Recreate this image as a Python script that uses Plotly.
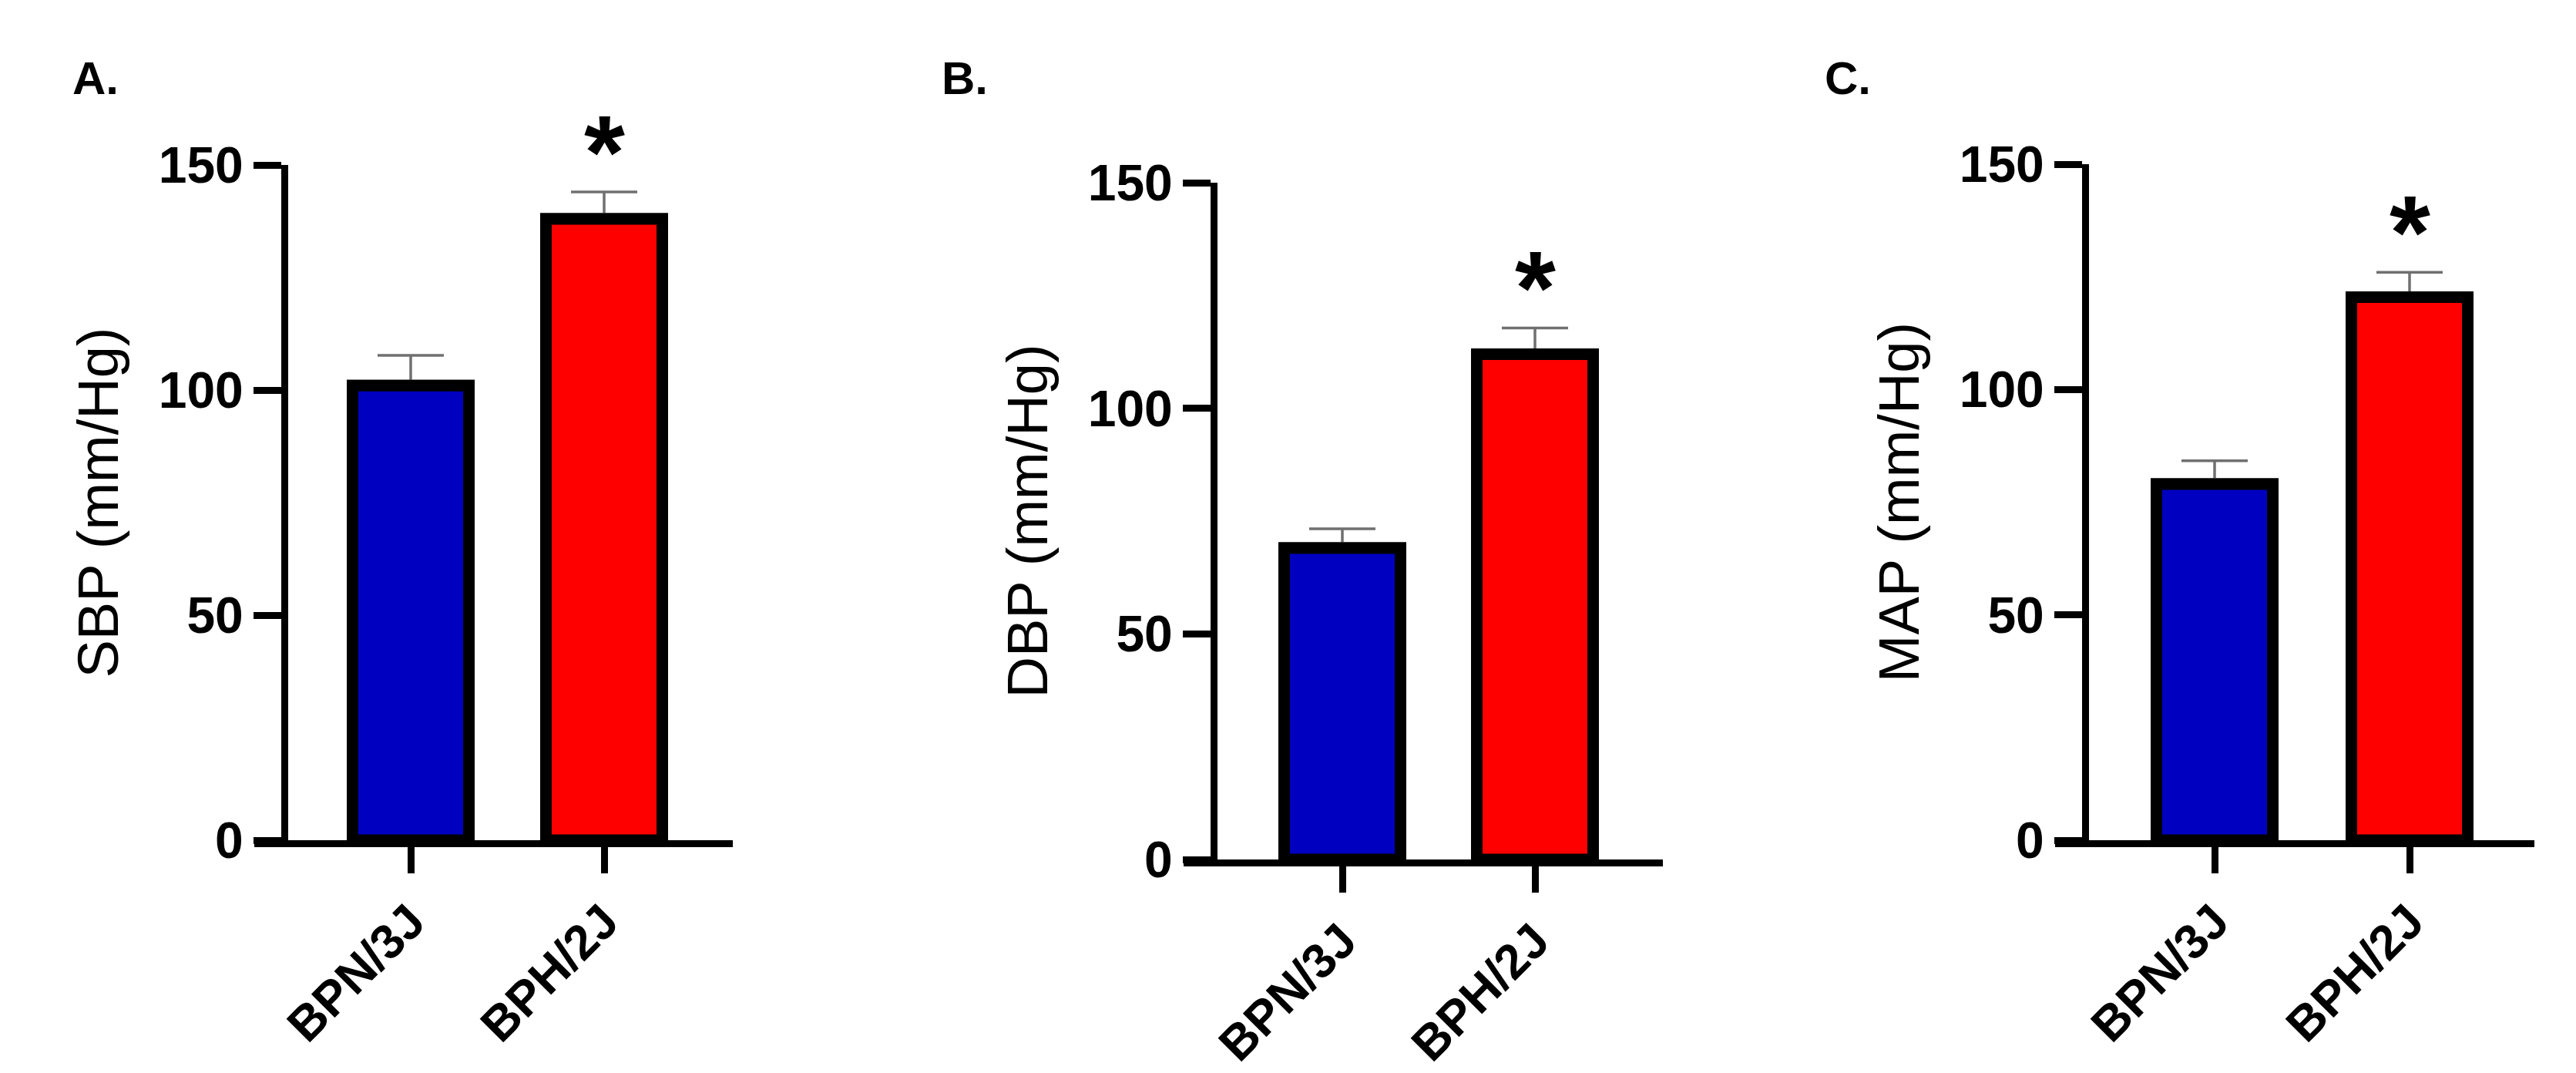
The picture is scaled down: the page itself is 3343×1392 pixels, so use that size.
import plotly.graph_objects as go

# ---------------- data ----------------
categories = ["BPN/3J", "BPH/2J"]
sbp_mean = [101.0, 138.0]
sbp_sem = [6.7, 6.0]
dbp_mean = [69.0, 112.0]
dbp_sem = [4.3, 5.8]
map_mean = [79.0, 120.5]
map_sem = [5.2, 5.5]
bar_colors = ["#0000C0", "#FF0000"]
y_titles = ["SBP (mm/Hg)", "DBP (mm/Hg)", "MAP (mm/Hg)"]
panel_labels = ["A.", "B.", "C."]
y_tick_vals = [0, 50, 100, 150]
significance = ["", "*"]

means = [sbp_mean, dbp_mean, map_mean]
sems = [sbp_sem, dbp_sem, map_sem]

# ---------------- layout (pixels) ----------------
W, H = 3343, 1392
# per panel: x-axis left end, right end, y-axis x, first category px, category spacing,
# y pixel of 0, y pixel of 150, panel label x
panels = [
    dict(xl=322, xr=943, yax=361, c0=525, sp=251, y0=1082, y150=206, lab=84),
    dict(xl=1528, xr=2150, yax=1567, c0=1734, sp=250, y0=1107, y150=229, lab=1212),
    dict(xl=2659, xr=3281, yax=2698, c0=2866, sp=253, y0=1082, y150=205, lab=2358),
]
BAR_PX = 151
FONT = "Liberation Sans, Arial, sans-serif"

fig = go.Figure()
layout = dict(
    width=W, height=H,
    margin=dict(l=0, r=0, t=0, b=0),
    paper_bgcolor="white", plot_bgcolor="white",
    showlegend=False, barmode="overlay",
    annotations=[],
)

for i, p in enumerate(panels):
    n = "" if i == 0 else str(i + 1)
    xa, ya = "x" + n, "y" + n
    unit = p["sp"]
    r0 = -(p["c0"] - p["xl"]) / unit
    r1 = (p["xr"] - p["c0"]) / unit
    width = BAR_PX / unit
    xs = [0, 1]

    # bars with upper error bars
    fig.add_trace(go.Bar(
        x=xs, y=means[i], width=width, xaxis=xa, yaxis=ya,
        marker=dict(color=bar_colors, line=dict(color="black", width=15)),
        error_y=dict(type="data", array=sems[i], arrayminus=[0, 0], symmetric=False,
                     color="#707070", thickness=3.5, width=43),
        hoverinfo="skip",
    ))
    # identical bars drawn on top to hide the lower cap of the error bars
    fig.add_trace(go.Bar(
        x=xs, y=means[i], width=width, xaxis=xa, yaxis=ya,
        marker=dict(color=bar_colors, line=dict(color="black", width=15)),
        hoverinfo="skip",
    ))

    layout["xaxis" + n] = dict(
        domain=[p["xl"] / W, p["xr"] / W], range=[r0, r1], anchor=ya,
        tickmode="array", tickvals=xs, ticktext=categories, tickangle=-45,
        ticks="outside", ticklen=34, tickwidth=9, tickcolor="black",
        showline=True, linewidth=9, linecolor="black",
        showgrid=False, zeroline=False, fixedrange=True, automargin=False,
        tickfont=dict(family=FONT, size=63, color="black", weight="bold"),
    )
    layout["yaxis" + n] = dict(
        domain=[1 - p["y0"] / H, 1 - p["y150"] / H], range=[0, 150],
        anchor="free", position=p["yax"] / W,
        tickmode="array", tickvals=y_tick_vals,
        ticks="outside", ticklen=36, tickwidth=9, tickcolor="black",
        showline=True, linewidth=9, linecolor="black",
        showgrid=False, zeroline=False, fixedrange=True, automargin=False,
        tickfont=dict(family=FONT, size=66, color="black", weight="bold"),
        title=dict(text=y_titles[i], standoff=26,
                   font=dict(family=FONT, size=74, color="black")),
    )
    # significance stars
    for j, s in enumerate(significance):
        if s:
            layout["annotations"].append(dict(
                x=xs[j], y=means[i][j] + sems[i][j], xref=xa, yref=ya,
                text=s, showarrow=False, yanchor="bottom", yshift=-26,
                font=dict(family=FONT, size=136, color="black", weight="bold"),
            ))
    # panel label
    layout["annotations"].append(dict(
        x=p["lab"] / W, y=1 - 94 / H, xref="paper", yref="paper",
        xanchor="left", yanchor="middle", text=panel_labels[i], showarrow=False,
        font=dict(family=FONT, size=60, color="black", weight="bold"),
    ))

fig.update_layout(**layout)
fig.write_html("out.html")
